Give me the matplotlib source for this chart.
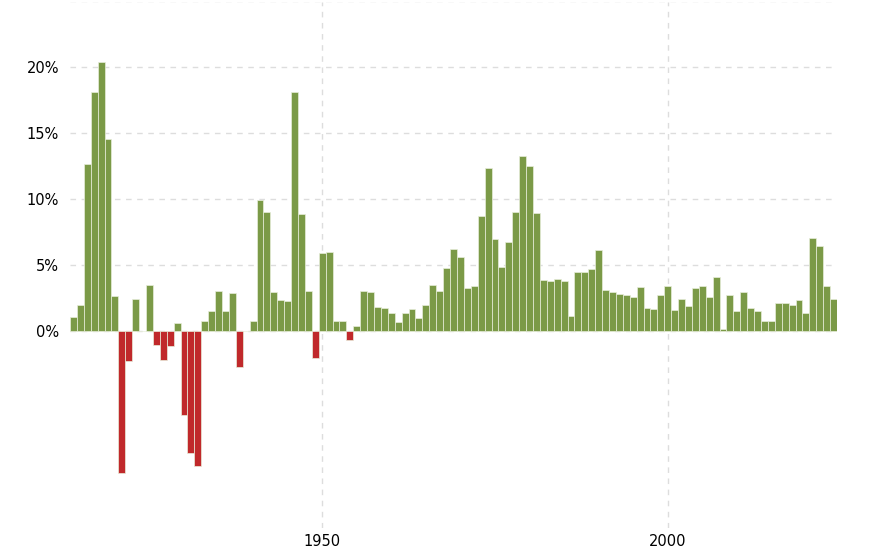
import numpy as np
import matplotlib
matplotlib.use('Agg')
import matplotlib.pyplot as plt

# Inflacion anual (%) 1914-2024
years = list(range(1914, 2025))
rates = [
    1.00, 1.98, 12.62, 18.10, 20.44, 14.55, 2.65, -10.83, -2.31, 2.37,   # 1914-1923
    0.00, 3.47, -1.12, -2.26, -1.16, 0.58, -6.40, -9.32, -10.27, 0.76,   # 1924-1933
    1.52, 2.99, 1.45, 2.86, -2.78, 0.00, 0.71, 9.93, 9.03, 2.96,         # 1934-1943
    2.30, 2.25, 18.13, 8.84, 2.99, -2.07, 5.93, 6.00, 0.75, 0.75,        # 1944-1953
    -0.74, 0.37, 2.99, 2.90, 1.76, 1.73, 1.36, 0.67, 1.33, 1.64,         # 1954-1963
    0.97, 1.92, 3.46, 3.04, 4.72, 6.20, 5.57, 3.27, 3.41, 8.71,          # 1964-1973
    12.34, 6.94, 4.86, 6.70, 9.02, 13.29, 12.52, 8.92, 3.83, 3.79,       # 1974-1983
    3.95, 3.80, 1.10, 4.43, 4.42, 4.65, 6.11, 3.06, 2.90, 2.75,          # 1984-1993
    2.67, 2.54, 3.32, 1.70, 1.61, 2.68, 3.39, 1.55, 2.38, 1.88,          # 1994-2003
    3.26, 3.42, 2.54, 4.08, 0.09, 2.72, 1.50, 2.96, 1.74, 1.50,          # 2004-2013
    0.76, 0.73, 2.07, 2.11, 1.91, 2.29, 1.36, 7.04, 6.45, 3.37,          # 2014-2023
    2.40,                                                                # 2024
]
y_ticks = [0, 5, 10, 15, 20]
x_ticks = [1950, 2000]

green = '#7b9a47'
red = '#c0292b'
colors = [green if r >= 0 else red for r in rates]

fig = plt.figure(figsize=(8.88, 5.5), dpi=100)
ax = fig.add_axes([70 / 888, 1 - 528 / 550, (837 - 70) / 888, (528 - 1.5) / 550])

# lineas de cuadricula
for yv in y_ticks + [25]:
    ax.axhline(yv, color='#dddddd', linestyle=(0, (4, 4)), linewidth=1, zorder=0)
for xv in x_ticks:
    ax.axvline(xv, color='#dddddd', linestyle=(0, (4, 4)), linewidth=1, zorder=0)

ax.bar(years, rates, width=1.0, color=colors, edgecolor='#e8eedb', linewidth=0.5, zorder=2)

ax.set_xlim(1913.5, 2024.5)
ax.set_ylim(-15, 25)
ax.set_yticks(y_ticks)
ax.set_yticklabels([f'{v}%' for v in y_ticks])
ax.set_xticks(x_ticks)
ax.set_xticklabels([str(v) for v in x_ticks])
ax.tick_params(axis='both', length=0, labelsize=10.5, colors='black')
ax.tick_params(axis='y', pad=8)
ax.tick_params(axis='x', pad=4)
for s in ax.spines.values():
    s.set_visible(False)

fig.savefig('out.png', dpi=100)
